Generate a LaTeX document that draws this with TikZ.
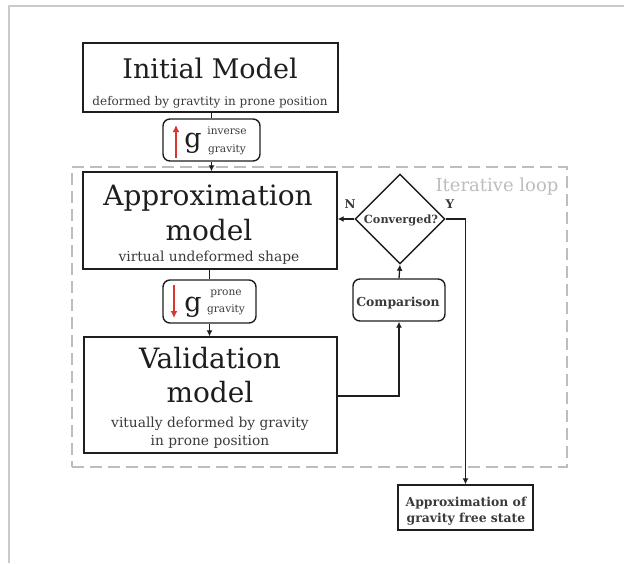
\documentclass[tikz,border=0pt]{standalone}
\usepackage{fontspec}
\setmainfont{DejaVu Serif}
\usepackage{graphicx}
\usetikzlibrary{arrows.meta,shapes.geometric}
\definecolor{ink}{HTML}{1E1E1E}
\definecolor{subink}{HTML}{3A3A3A}
\definecolor{loopgray}{HTML}{BDBDBD}
\definecolor{gred}{HTML}{D9362F}
\tikzset{
  bigbox/.style={draw=ink, line width=1.4pt, inner sep=0pt},
  gbox/.style={draw=ink, line width=1.4pt, rounded corners=7pt, inner sep=0pt},
  conn/.style={draw=ink, line width=1.3pt},
  arr/.style={conn, -{Latex[length=6pt,width=6pt]}},
  redarr/.style={draw=gred, line width=2pt, -{Latex[length=7pt,width=7pt]}},
  ttl/.style={anchor=base, inner sep=0pt, text=ink, font=\fontsize{28}{30}\selectfont},
  sub/.style={anchor=base, inner sep=0pt, text=subink, font=\fontsize{13.8}{16}\selectfont},
  tiny/.style={anchor=base, inner sep=0pt, text=subink, font=\fontsize{10.6}{12}\selectfont},
  gsym/.style={anchor=base, inner sep=0pt, text=ink, font=\fontsize{27}{30}\selectfont},
  bsmall/.style={anchor=base, inner sep=0pt, text=subink, font=\bfseries\fontsize{12.4}{14}\selectfont},
}
\begin{document}
\begin{tikzpicture}[x=1pt,y=-1pt]
\useasboundingbox (0,0) rectangle (624,563);
% outer frame
\draw[loopgray!80, line width=1.2pt] (9,563) -- (9,6) -- (624,6);
% iterative loop
\node[draw=loopgray, line width=1.6pt, dash pattern=on 12pt off 6pt, minimum width=495, minimum height=300, inner sep=0pt] (loop) at (319.5,317) {};
\node[anchor=base, inner sep=0pt, text=loopgray, font=\fontsize{18}{20}\selectfont] (looplbl) at (497,191) {Iterative loop};

% boxes
\node[bigbox, minimum width=255, minimum height=69] (init) at (210.5,77.5) {};
\node[gbox, minimum width=97, minimum height=42] (inv) at (211.5,140) {};
\node[bigbox, minimum width=254, minimum height=97] (appr) at (210,220.5) {};
\node[gbox, minimum width=93, minimum height=43] (prone) at (209.5,301.5) {};
\node[bigbox, minimum width=253, minimum height=116] (valid) at (210.5,395) {};
\node[diamond, draw=ink, line width=1.4pt, minimum width=90, minimum height=90, inner sep=0pt] (conv) at (400,219) {};
\node[gbox, minimum width=92, minimum height=42] (comp) at (399,300) {};
\node[bigbox, minimum width=135, minimum height=45] (free) at (465.5,507.5) {};

% texts
\node[ttl, font=\fontsize{27}{30}\selectfont] (tinit) at (210,78) {Initial Model};
\node[anchor=base, inner sep=0pt, text=subink, font=\fontsize{12}{14}\selectfont] (sinit) at (210,105) {deformed by gravtity in prone position};

\node[gsym] (g1) at (193,147) {g};
\node[tiny] (inv1) at (227,134.5) {inverse};
\node[tiny] (inv2) at (227,152.5) {gravity};

\node[ttl] (tappr1) at (208,205) {Approximation};
\node[ttl] (tappr2) at (209,240) {model};
\node[sub] (sappr) at (209,261) {virtual undeformed shape};

\node[gsym] (g2) at (193,311) {g};
\node[tiny] (pr1) at (226,295) {prone};
\node[tiny] (pr2) at (226,312.5) {gravity};

\node[ttl] (tval1) at (210,368) {Validation};
\node[ttl] (tval2) at (210,402) {model};
\node[sub] (sval1) at (210,427) {vitually deformed by gravity};
\node[sub] (sval2) at (210,445) {in prone position};

\node[bsmall, font=\bfseries\fontsize{11.3}{13}\selectfont] (tconv) at (401,223) {Converged?};
\node[bsmall] (tcomp) at (398,306) {Comparison};
\node[bsmall] (tfree1) at (466,506) {Approximation of};
\node[bsmall] (tfree2) at (466,522) {gravity free state};

\node[bsmall, font=\bfseries\fontsize{12}{14}\selectfont] (lN) at (350,208) {N};
\node[bsmall, font=\bfseries\fontsize{12}{14}\selectfont] (lY) at (450,208) {Y};

% red gravity arrows
\coordinate (r1a) at (176,158);
\coordinate (r1b) at (176,125);
\draw[redarr] (r1a) -- (r1b);
\coordinate (r2a) at (174,285);
\coordinate (r2b) at (174,318);
\draw[redarr] (r2a) -- (r2b);

% connectors
\draw[conn] (inv.north) -- (inv.north |- init.south);
\draw[arr] (inv.south) -- (inv.south |- appr.north);
\draw[conn] (prone.north) -- (prone.north |- appr.south);
\draw[arr] (prone.south) -- (prone.south |- valid.north);
\draw[arr] (conv.west) -- (conv.west -| appr.east);
\draw[arr] (comp.north) -- (conv.south);
\draw[arr] (valid.east |- 0,396) -| (comp.south);
\draw[arr] (conv.east) -| (free.north);
\end{tikzpicture}
\end{document}
